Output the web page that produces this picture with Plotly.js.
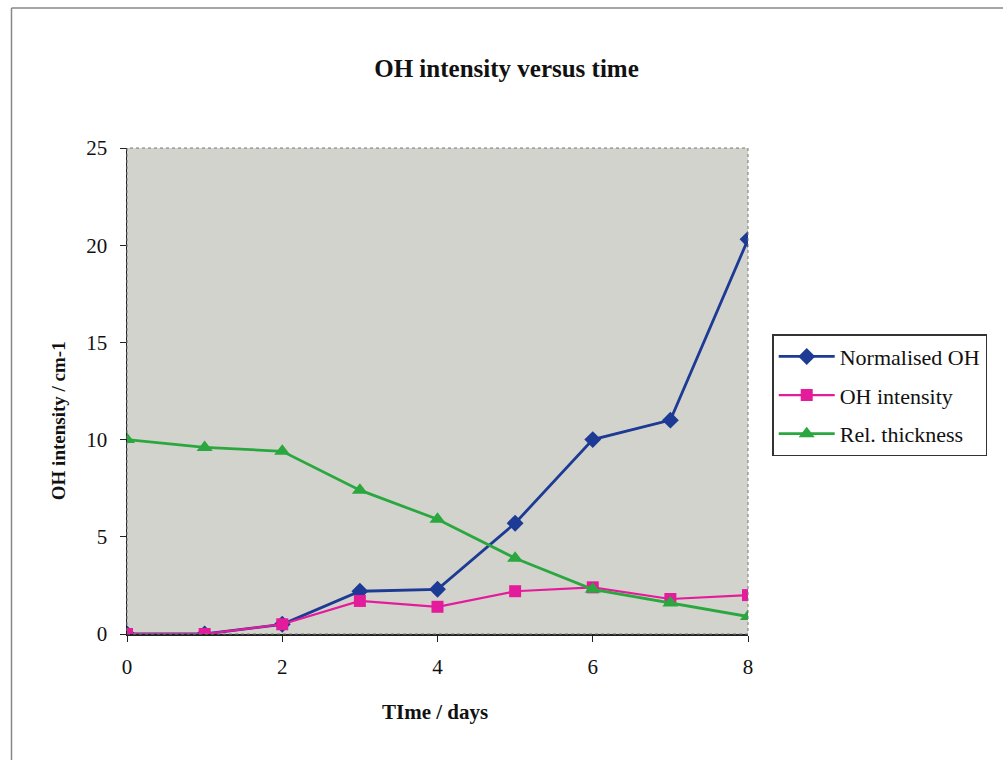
<!DOCTYPE html>
<html>
<head>
<meta charset="utf-8">
<script src="https://cdn.plot.ly/plotly-3.0.1.min.js"></script>
<style>html,body{margin:0;padding:0;background:#fff;}#chart{width:1003px;height:760px;}</style>
</head>
<body>
<div id="chart"></div>
<script>
const days = [0, 1, 2, 3, 4, 5, 6, 7, 8];
const normalisedOH = [0, 0, 0.5, 2.2, 2.3, 5.7, 10.0, 11.0, 20.3];
const ohIntensity = [0, 0, 0.5, 1.7, 1.4, 2.2, 2.4, 1.8, 2.0];
const relThickness = [10.0, 9.6, 9.4, 7.4, 5.9, 3.9, 2.3, 1.6, 0.9];
const seriesNames = ['Normalised OH', 'OH intensity', 'Rel. thickness'];
const xTicks = [0, 2, 4, 6, 8];
const yTicks = [0, 5, 10, 15, 20, 25];

const serif = 'Liberation Serif, Times New Roman, serif';

const traces = [
  {x: days, y: normalisedOH, name: seriesNames[0], mode: 'lines+markers', legendgroup: 'a',
   line: {color: '#1d3a94', width: 2.8}, marker: {symbol: 'diamond', size: 13, color: '#1d3a94'}},
  {x: days, y: ohIntensity, name: seriesNames[1], mode: 'lines+markers', legendgroup: 'b',
   line: {color: '#e41b9b', width: 2.2}, marker: {symbol: 'square', size: 12, color: '#e41b9b'}},
  {x: days, y: relThickness, name: seriesNames[2], mode: 'lines+markers', legendgroup: 'c',
   line: {color: '#2aa83f', width: 2.8}, marker: {symbol: 'triangle-up', size: 14, color: '#2aa83f'}}
];

const layout = {
  width: 1003, height: 760,
  margin: {l: 127, r: 255, t: 148, b: 126},
  paper_bgcolor: '#ffffff',
  plot_bgcolor: '#d3d3ce',
  showlegend: true,
  font: {family: serif, size: 21, color: '#111'},
  title: {text: '<b>OH intensity versus time</b>', font: {family: serif, size: 25, color: '#111'},
          x: 0.505, xref: 'container', xanchor: 'center', y: 0.9105, yref: 'container', yanchor: 'middle'},
  xaxis: {range: [0, 8], tickvals: xTicks, showgrid: false, zeroline: false,
          showline: true, linecolor: '#222', linewidth: 1.5, ticks: 'outside', ticklen: 6,
          ticklabelstandoff: 7,
          tickcolor: '#222', tickfont: {family: serif, size: 21, color: '#111'}},
  yaxis: {range: [0, 25], tickvals: yTicks, showgrid: false, zeroline: false,
          showline: true, linecolor: '#222', linewidth: 1.5, ticks: 'outside', ticklen: 6,
          ticklabelstandoff: 8,
          tickcolor: '#222', tickfont: {family: serif, size: 21, color: '#111'}},
  legend: {x: 1.039, xanchor: 'left', y: 0.617, yanchor: 'top',
           bgcolor: '#ffffff', bordercolor: '#333', borderwidth: 1.5, itemwidth: 56,
           traceorder: 'grouped', tracegroupgap: 7,
           font: {family: serif, size: 22, color: '#111'}},
  annotations: [
    {text: '<b>TIme / days</b>', xref: 'paper', yref: 'paper', x: 0.496, y: -0.16,
     xanchor: 'center', yanchor: 'middle', showarrow: false, font: {family: serif, size: 21, color: '#111'}},
    {text: '<b>OH intensity / cm-1</b>', xref: 'paper', yref: 'paper', x: -0.111, y: 0.438,
     xanchor: 'center', yanchor: 'middle', textangle: -90, showarrow: false, font: {family: serif, size: 19, color: '#111'}}
  ],
  shapes: [
    {type: 'rect', xref: 'paper', yref: 'paper', x0: 0, x1: 1, y0: 0, y1: 1,
     line: {color: '#777', width: 1, dash: 'dot'}},
    {type: 'line', xref: 'paper', yref: 'paper', x0: -0.186, x1: 1.6, y0: 1.288, y1: 1.288,
     line: {color: '#888', width: 1.5}},
    {type: 'line', xref: 'paper', yref: 'paper', x0: -0.186, x1: -0.186, y0: -0.5, y1: 1.288,
     line: {color: '#888', width: 1.5}}
  ]
};

Plotly.newPlot('chart', traces, layout, {displayModeBar: false, staticPlot: true});
</script>
</body>
</html>
